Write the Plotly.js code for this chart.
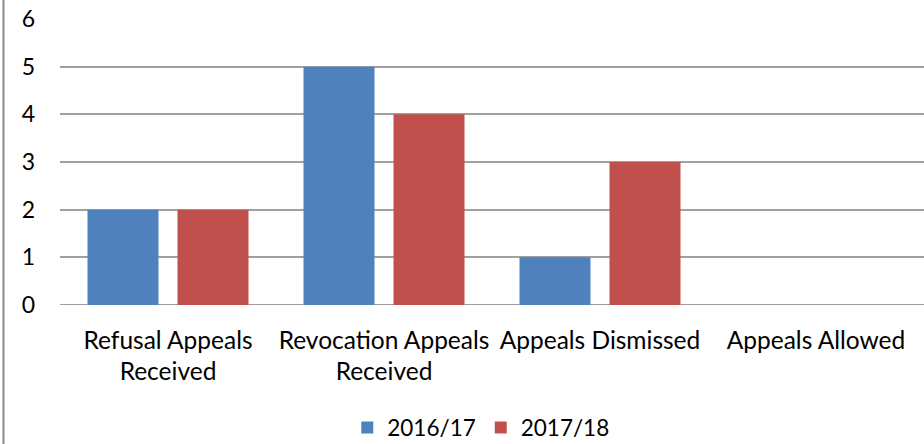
<!DOCTYPE html>
<html>
<head>
<meta charset="utf-8">
<script src="https://cdn.plot.ly/plotly-3.0.1.min.js"></script>
<style>
  html, body { margin: 0; padding: 0; background: #ffffff; }
  #chart { width: 924px; height: 444px; }
</style>
</head>
<body>
<div id="chart"></div>
<script>
const categories = ["Refusal Appeals<br>Received", "Revocation Appeals<br>Received", "Appeals Dismissed", "Appeals Allowed"];
const series2016 = [2, 5, 1, 0];
const series2017 = [2, 4, 3, 0];
const seriesNames = ["2016/17", "2017/18"];
const yTicks = [0, 1, 2, 3, 4, 5, 6];

const FONT = "Lato, 'Open Sans', sans-serif";

const data = [
  {
    type: "bar", x: categories, y: series2016, name: seriesNames[0],
    marker: { color: "#4F81BD", line: { width: 0 } },
    hoverinfo: "skip"
  },
  {
    type: "bar", x: categories, y: series2017, name: seriesNames[1],
    marker: { color: "#C0504D", line: { width: 0 } },
    hoverinfo: "skip"
  }
];

const layout = {
  width: 924, height: 444,
  margin: { l: 60, r: 0, t: 19, b: 139, pad: 0, autoexpand: false },
  paper_bgcolor: "#ffffff", plot_bgcolor: "#ffffff",
  font: { family: FONT, size: 24, color: "#000000" },
  barmode: "group",
  bargap: 0.1667,
  bargroupgap: 0.211,
  showlegend: true,
  legend: {
    orientation: "h", x: 0.487, xanchor: "center", y: -0.43, yanchor: "middle",
    font: { family: FONT, size: 22.5, color: "#000000" },
    itemwidth: 30, traceorder: "normal"
  },
  xaxis: {
    type: "category", tickangle: 0, showgrid: false, zeroline: false, showline: false,
    ticks: "", ticklabelstandoff: 18, automargin: false,
    tickfont: { family: FONT, size: 24.5, color: "#000000" }
  },
  yaxis: {
    range: [0, 6], tickvals: yTicks, showgrid: true, gridcolor: "#a0a0a0", gridwidth: 2,
    zeroline: false, showline: false, ticks: "", ticklabelstandoff: 24, automargin: false,
    tickfont: { family: FONT, size: 23, color: "#000000" }
  },
  shapes: [
    { type: "line", xref: "paper", yref: "paper", x0: -0.0654, x1: -0.0654, y0: -0.49, y1: 1.07,
      line: { color: "#8a8a8a", width: 2 } },
    { type: "line", xref: "paper", yref: "y", x0: 0, x1: 1, y0: 0, y1: 0,
      line: { color: "#a0a0a0", width: 2 }, layer: "below" }
  ],
  hovermode: false
};

Plotly.newPlot("chart", data, layout, { displayModeBar: false, staticPlot: true });
</script>
</body>
</html>
